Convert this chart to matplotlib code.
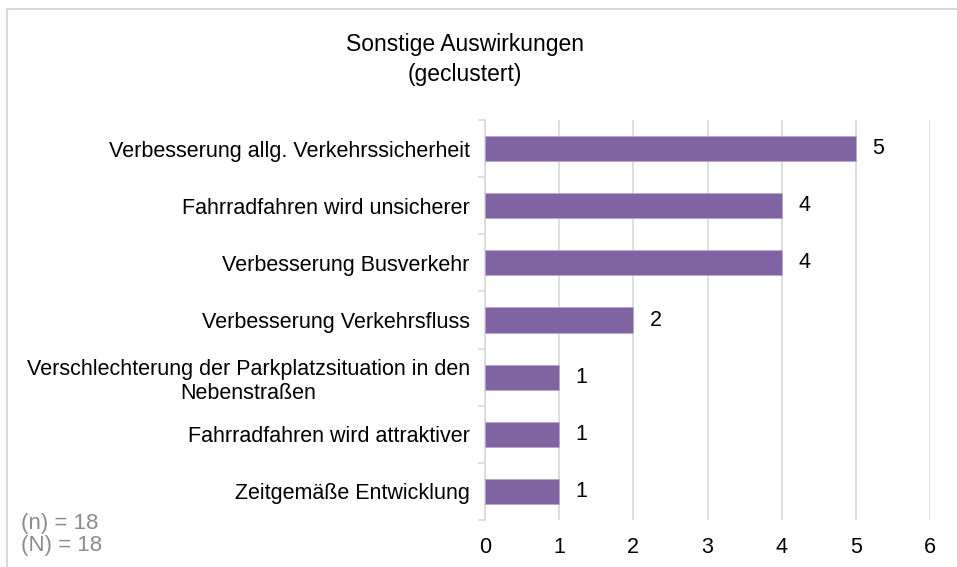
import matplotlib.pyplot as plt
from matplotlib.lines import Line2D
import numpy as np

plt.rcParams["font.family"] = ["Liberation Sans", "DejaVu Sans"]

categories = [
    "Verbesserung allg. Verkehrssicherheit",
    "Fahrradfahren wird unsicherer",
    "Verbesserung Busverkehr",
    "Verbesserung Verkehrsfluss",
    "Verschlechterung der Parkplatzsituation in den\nNebenstraßen",
    "Fahrradfahren wird attraktiver",
    "Zeitgemäße Entwicklung",
]
counts = [5, 4, 4, 2, 1, 1, 1]
x_ticks = [0, 1, 2, 3, 4, 5, 6]
title_lines = ["Sonstige Auswirkungen", "(geclustert)"]
footnote_lines = ["(n) = 18", "(N) = 18"]

bar_color = "#8064A2"
grid_color = "#D9D9D9"

fig = plt.figure(figsize=(9.57, 5.67), dpi=100)
# outer chart frame (only top and left edges are inside the image)
top_y = 1 - 8.5 / 567
left_x = 7 / 957
fig.lines.append(Line2D([left_x, 1.0], [top_y, top_y], transform=fig.transFigure,
                        color=grid_color, lw=1.5))
fig.lines.append(Line2D([left_x, left_x], [0.0, top_y], transform=fig.transFigure,
                        color=grid_color, lw=1.5))

ax = fig.add_axes([485 / 957, 1 - 520 / 567, 445 / 957, 400 / 567])
y = np.arange(len(categories))
ax.barh(y, counts, height=0.44, color=bar_color, edgecolor="#B9A8D0",
        lw=0.6, zorder=3)
for yi, v in zip(y, counts):
    ax.annotate(str(v), (v, yi), xytext=(12, 0), textcoords="offset points",
                va="center", ha="left", fontsize=15.5)

ax.set_xlim(x_ticks[0], x_ticks[-1])
ax.set_ylim(len(categories) - 0.5, -0.5)
ax.set_xticks(x_ticks)
ax.set_yticks(y)
ax.set_yticklabels(categories, ha="right", multialignment="center")
ax.tick_params(axis="y", length=0, pad=11, labelsize=15.5)
ax.tick_params(axis="x", length=0, pad=12, labelsize=15.5)
ax.set_yticks(np.arange(len(categories) + 1) - 0.5, minor=True)
ax.tick_params(axis="y", which="minor", length=5, color=grid_color, width=1.2)
ax.grid(axis="x", color=grid_color, lw=1.2, zorder=0)
for side in ("top", "right", "bottom"):
    ax.spines[side].set_visible(False)
ax.spines["left"].set_color(grid_color)
ax.spines["left"].set_linewidth(1.2)

for i, line in enumerate(title_lines):
    fig.text(465 / 957, 1 - (45 + 30 * i) / 567, line, ha="center",
             va="center", fontsize=16.5)
for i, line in enumerate(footnote_lines):
    fig.text(21 / 957, 1 - (524 + 22 * i) / 567, line, ha="left",
             va="center", fontsize=16, color="#8C8C8C")

fig.savefig("out.png", dpi=100)
